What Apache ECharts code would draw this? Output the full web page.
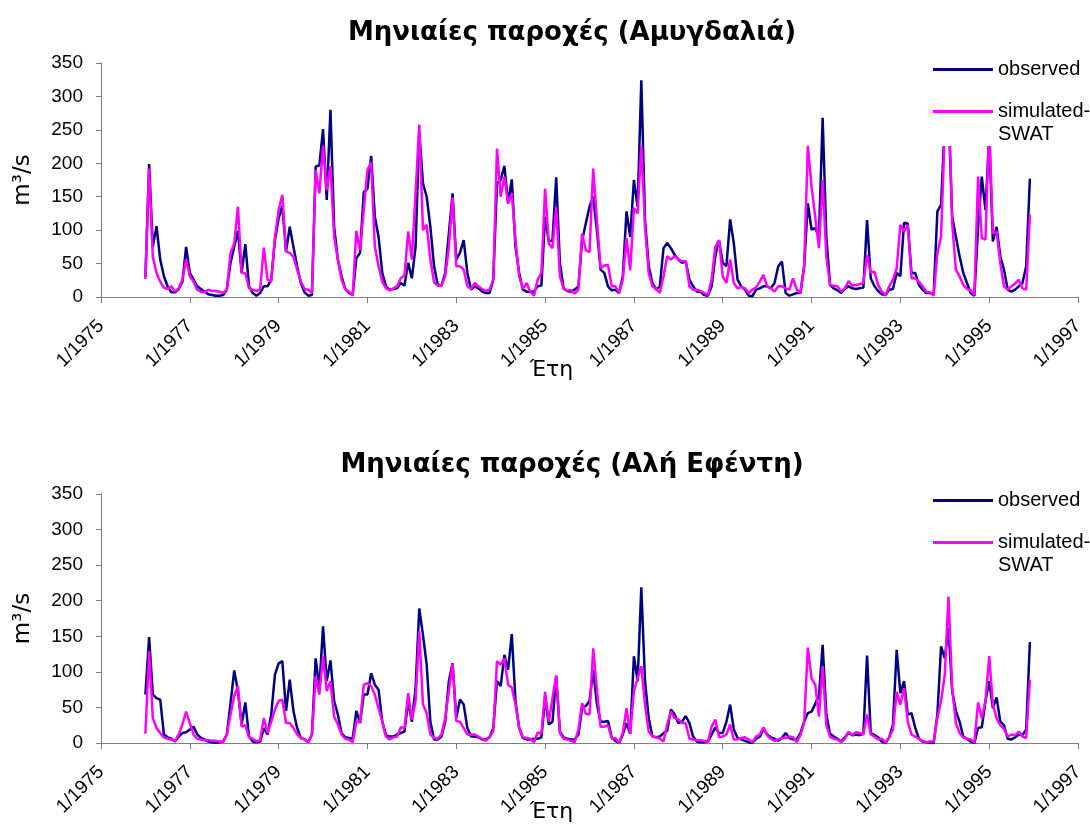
<!DOCTYPE html>
<html>
<head>
<meta charset="utf-8">
<script src="https://cdn.jsdelivr.net/npm/echarts@6/dist/echarts.min.js"></script>
<style>
html,body{margin:0;padding:0;background:#fff}
#chart{width:1090px;height:825px}
</style>
</head>
<body>
<div id="chart"></div>
<script>
// monthly flows, Jan 1976 .. Dec 1995 (m3/s)
var startMonth = 12; // months after 1/1975
var xTicks = [1975, 1977, 1979, 1981, 1983, 1985, 1987, 1989, 1991, 1993, 1995, 1997];

var obsA = [
  30,199,75,106,56,31,16,7,7,12,23,75,
  36,26,16,12,8,4,3,2,2,3,11,51,
  75,99,36,79,16,6,2,6,16,16,26,85,
  118,136,68,105,75,46,21,7,2,3,195,197,
  251,145,280,105,56,31,12,6,3,58,66,157,
  162,211,120,90,36,16,11,12,13,21,17,51,
  28,75,247,170,150,105,46,18,17,36,95,155,
  56,66,85,36,11,16,13,8,6,6,26,170,
  175,196,140,176,75,36,11,8,8,8,16,17,
  120,83,85,179,51,13,9,8,11,16,85,110,
  135,150,100,41,36,16,10,11,6,31,128,90,
  175,135,324,115,46,21,11,16,73,81,73,63,
  56,51,53,26,16,8,8,3,2,16,61,85,
  51,46,116,80,26,16,11,2,1,11,13,16,
  16,13,21,46,53,6,2,4,6,6,46,140,
  101,103,90,268,90,18,13,10,6,12,16,13,
  12,13,14,115,28,16,9,4,3,11,12,36,
  31,111,110,36,36,18,11,6,6,4,128,138,
  260,280,120,90,61,36,21,6,2,105,180,130,
  240,83,105,61,41,11,8,11,16,21,46,177
];
var simA = [
  27,192,60,36,23,14,12,16,8,13,26,56,
  31,23,11,8,7,11,9,9,8,6,11,66,
  80,135,36,36,13,11,9,11,74,26,23,90,
  130,153,68,66,60,41,23,12,11,6,190,155,
  226,160,196,90,56,26,12,8,2,99,70,130,
  190,202,75,46,23,13,10,13,16,28,32,98,
  56,155,258,100,108,56,22,17,17,31,75,149,
  46,46,41,16,12,21,16,12,9,11,26,222,
  150,180,140,155,85,31,12,21,8,2,26,36,
  162,80,73,134,31,12,10,10,5,11,95,70,
  67,192,115,43,47,48,16,16,6,26,88,40,
  133,125,227,105,36,16,12,6,31,61,56,61,
  57,53,54,16,11,11,9,6,3,26,75,85,
  31,21,56,21,13,15,13,6,11,14,23,33,
  16,13,8,16,16,13,11,28,11,6,46,226,
  165,120,73,175,60,18,17,16,8,13,24,17,
  18,19,21,63,36,38,18,8,3,16,26,43,
  108,98,108,28,28,23,16,8,7,2,66,90,
  250,310,110,41,31,18,12,10,3,180,88,86,
  260,95,98,51,16,11,16,20,26,13,11,123
];
var obsB = [
  68,149,68,63,61,12,8,6,2,9,14,15,
  19,23,12,7,5,2,1,0,1,2,12,56,
  102,73,26,57,9,2,1,2,21,12,40,96,
  112,115,45,89,45,21,7,5,1,12,119,77,
  164,87,116,59,40,14,8,7,6,45,28,68,
  68,98,82,75,30,11,9,9,12,14,16,59,
  30,77,189,152,110,30,5,5,9,30,87,112,
  35,61,54,21,9,9,8,5,5,8,21,87,
  80,124,103,153,59,21,7,5,5,6,6,8,
  63,26,30,94,16,8,6,5,5,12,49,52,
  59,103,55,30,30,31,8,3,0,12,28,13,
  122,87,219,87,35,9,8,9,14,17,47,40,
  28,30,38,28,9,2,1,1,2,12,22,14,
  14,30,54,19,7,5,3,1,0,6,9,20,
  12,8,6,3,7,14,7,5,5,14,30,42,
  44,55,66,138,40,13,9,6,2,8,14,11,
  12,11,13,123,14,11,8,2,0,8,26,131,
  70,87,40,42,22,6,2,1,0,0,40,136,
  119,162,73,45,30,9,6,2,0,21,22,59,
  87,49,64,30,25,6,5,8,12,11,19,142
];
var simB = [
  13,129,35,21,14,8,6,5,3,12,26,44,
  28,12,6,5,4,4,3,3,2,1,12,40,
  66,80,23,25,8,6,2,4,35,14,30,47,
  59,61,28,28,21,12,7,5,1,12,94,68,
  122,73,87,37,26,12,6,5,1,30,30,82,
  84,80,68,49,30,9,5,8,9,22,21,70,
  33,59,157,54,42,12,7,6,12,35,73,111,
  31,30,21,12,12,12,9,6,3,9,16,115,
  110,119,82,78,54,21,8,7,6,1,15,13,
  72,30,63,95,14,6,5,3,1,19,56,41,
  40,133,75,23,23,25,6,7,0,14,49,13,
  73,91,108,54,16,9,8,6,2,26,44,35,
  33,28,28,6,5,4,4,3,1,23,33,8,
  9,12,26,5,5,7,8,5,1,9,12,22,
  11,6,3,5,7,7,9,8,1,11,28,134,
  91,82,37,108,25,9,6,5,1,6,16,11,
  15,14,12,40,12,9,5,6,1,8,19,72,
  54,77,30,12,9,6,3,1,2,2,35,59,
  96,206,77,28,14,8,6,5,1,57,35,59,
  122,54,35,25,20,9,12,11,16,9,7,89
];

function pairs(arr) {
  var out = [];
  for (var i = 0; i < arr.length; i++) {
    out.push([startMonth + i, arr[i]]);
  }
  return out;
}

var font = 'Liberation Sans, Arial, sans-serif';
var titleFont = 'DejaVu Sans, Verdana, sans-serif';

function xAxisFor(idx, gap) {
  return {
    gridIndex: idx,
    type: 'value',
    min: 0,
    max: (xTicks[xTicks.length - 1] - xTicks[0]) * 12,
    interval: 24,
    name: 'Έτη',
    nameLocation: 'middle',
    nameGap: gap,
    nameMoveOverlap: false,
    nameTextStyle: {fontFamily: titleFont, fontSize: 22, color: '#000', padding: [0, 76, 0, 0]},
    axisLine: {show: true, onZero: false, lineStyle: {color: '#808080', width: 1}},
    axisTick: {show: true, inside: false, length: 6, lineStyle: {color: '#808080'}},
    splitLine: {show: false},
    axisLabel: {
      rotate: 45, margin: 26, fontFamily: font, fontSize: 19, color: '#000',
      formatter: function (v) { return '1/' + (xTicks[0] + v / 12); }
    }
  };
}

function yAxisFor(idx) {
  return {
    gridIndex: idx,
    type: 'value',
    min: 0,
    max: 350,
    interval: 50,
    name: 'm³/s',
    nameLocation: 'middle',
    nameRotate: 90,
    nameGap: 66,
    nameMoveOverlap: false,
    nameTextStyle: {fontFamily: titleFont, fontSize: 23, color: '#000'},
    axisLine: {show: true, lineStyle: {color: '#808080', width: 1}},
    axisTick: {show: true, inside: false, length: 5, lineStyle: {color: '#808080'}},
    splitLine: {show: false},
    axisLabel: {margin: 18, fontFamily: font, fontSize: 19, color: '#000'}
  };
}

function legendFor(top) {
  return {
    orient: 'vertical',
    left: 925,
    top: top,
    icon: 'rect',
    itemWidth: 60,
    itemHeight: 3,
    itemGap: -4,
    padding: [0, 8, 0, 8],
    backgroundColor: '#fff',
    data: ['observed', 'simulated-SWAT'],
    formatter: function (n) { return n === 'simulated-SWAT' ? ' \nsimulated-\nSWAT' : n; },
    textStyle: {fontFamily: font, fontSize: 20, lineHeight: 23, color: '#000'}
  };
}

function lineSeries(name, data, color, idx) {
  return {
    name: name,
    type: 'line',
    xAxisIndex: idx,
    yAxisIndex: idx,
    data: pairs(data),
    symbol: 'none',
    lineStyle: {color: color, width: 2.5},
    itemStyle: {color: color},
    animation: false
  };
}

var option = {
  backgroundColor: '#fff',
  animation: false,
  title: [
    {text: 'Μηνιαίες παροχές (Αμυγδαλιά)', left: 567, top: 15, textAlign: 'center',
     textStyle: {fontFamily: titleFont, fontSize: 26, fontWeight: 'bold', color: '#000'}},
    {text: 'Μηνιαίες παροχές (Αλή Εφέντη)', left: 567, top: 447, textAlign: 'center',
     textStyle: {fontFamily: titleFont, fontSize: 26, fontWeight: 'bold', color: '#000'}}
  ],
  legend: [legendFor(58), legendFor(489)],
  grid: [
    {left: 101, top: 63, width: 977, height: 234, outerBoundsMode: 'none'},
    {left: 101, top: 494, width: 977, height: 249, outerBoundsMode: 'none'}
  ],
  xAxis: [xAxisFor(0, 62), xAxisFor(1, 58)],
  yAxis: [yAxisFor(0), yAxisFor(1)],
  series: [
    lineSeries('observed', obsA, '#000080', 0),
    lineSeries('simulated-SWAT', simA, '#FF00FF', 0),
    lineSeries('observed', obsB, '#000080', 1),
    lineSeries('simulated-SWAT', simB, '#FF00FF', 1)
  ]
};

var chart = echarts.init(document.getElementById('chart'));
chart.setOption(option);
</script>
</body>
</html>
